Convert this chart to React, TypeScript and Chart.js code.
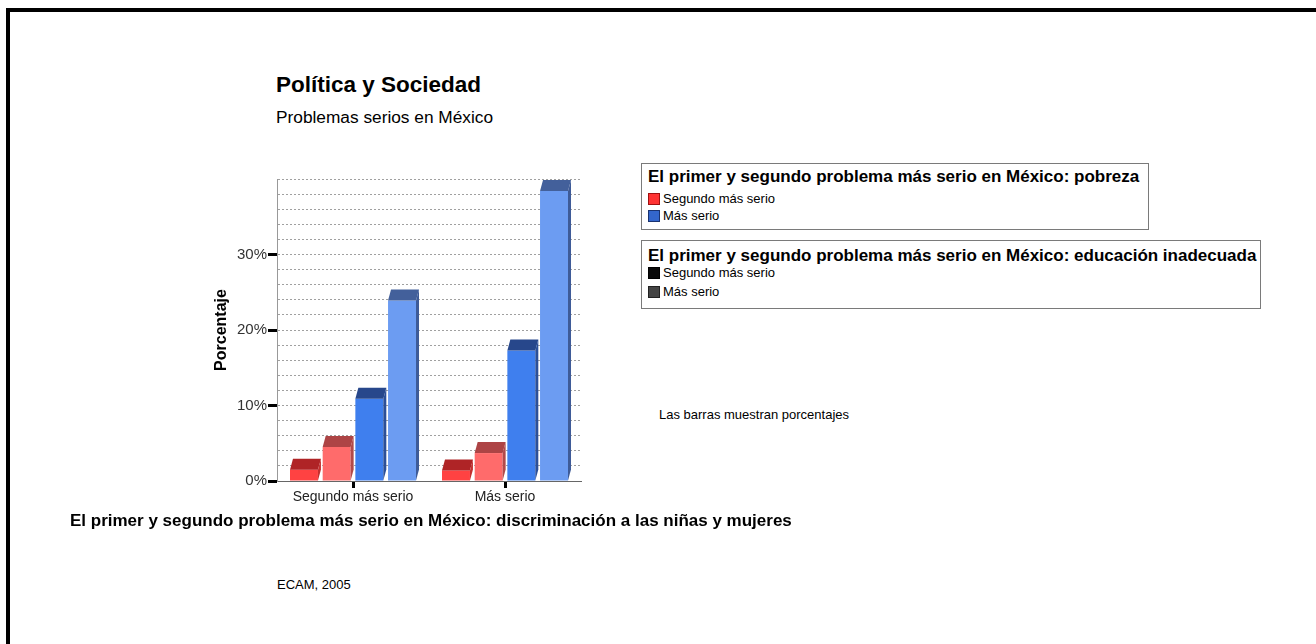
import React, { useEffect, useRef } from "react";
import { Chart, registerables } from "chart.js";

Chart.register(...registerables);

// ---- data ----
const categories = ["Segundo más serio", "Más serio"];
const seriesNames = ["Serie 1", "Serie 2", "Serie 3", "Serie 4"];
const seriesRed = [1.5, 1.4];
const seriesLightRed = [4.5, 3.7];
const seriesBlue = [10.9, 17.3];
const seriesLightBlue = [23.9, 38.4];
const labeledTicks = [0, 10, 20, 30];
const yMax = 40;
const yStep = 2;

const frontColors = ["#FF4242", "#FF6B6B", "#3F7FEE", "#6C9CF2"];
const topColors = ["#AF2426", "#AD4445", "#27478B", "#43609B"];
const sideColors = ["#C4302F", "#B24A4A", "#2B4F98", "#3E5B98"];

const FONT = '"Liberation Sans", Arial, Helvetica, sans-serif';
const DX = 3;
const DY = 11;

const bar3d = {
  id: "bar3d",
  afterDatasetsDraw(chart: any) {
    const ctx = chart.ctx;
    chart.data.datasets.forEach((_ds: any, i: number) => {
      const meta = chart.getDatasetMeta(i);
      meta.data.forEach((bar: any) => {
        const { x, y, base, width } = bar.getProps(["x", "y", "base", "width"], true);
        const l = x - width / 2;
        const r = x + width / 2;
        ctx.save();
        ctx.fillStyle = topColors[i];
        ctx.beginPath();
        ctx.moveTo(l, y);
        ctx.lineTo(l + DX, y - DY);
        ctx.lineTo(r + DX, y - DY);
        ctx.lineTo(r, y);
        ctx.closePath();
        ctx.fill();
        ctx.fillStyle = sideColors[i];
        ctx.beginPath();
        ctx.moveTo(r, y);
        ctx.lineTo(r + DX, y - DY);
        ctx.lineTo(r + DX, base - DY);
        ctx.lineTo(r, base);
        ctx.closePath();
        ctx.fill();
        ctx.restore();
      });
    });
  },
};

function Txt(props: { x: number; cy: number; size: number; bold?: boolean; children: React.ReactNode; color?: string }) {
  const lh = Math.round(props.size * 1.2);
  return (
    <div
      style={{
        position: "absolute",
        left: props.x,
        top: props.cy - lh / 2,
        fontSize: props.size,
        lineHeight: lh + "px",
        fontWeight: props.bold ? "bold" : "normal",
        fontFamily: FONT,
        whiteSpace: "nowrap",
        color: props.color || "#000",
      }}
    >
      {props.children}
    </div>
  );
}

function Swatch(props: { x: number; y: number; color: string; border: string }) {
  return (
    <div
      style={{
        position: "absolute",
        left: props.x,
        top: props.y,
        width: 12,
        height: 12,
        boxSizing: "border-box",
        background: props.color,
        border: "1px solid " + props.border,
      }}
    />
  );
}

export default function App() {
  const ref = useRef<HTMLCanvasElement | null>(null);

  useEffect(() => {
    if (!ref.current) return;
    const data = [seriesRed, seriesLightRed, seriesBlue, seriesLightBlue];
    const chart = new Chart(ref.current, {
      type: "bar",
      data: {
        labels: categories,
        datasets: data.map((d, i) => ({
          label: seriesNames[i],
          data: d,
          backgroundColor: frontColors[i],
          borderWidth: 0,
          categoryPercentage: 0.86,
          barPercentage: 0.856,
        })),
      },
      options: {
        responsive: false,
        animation: false,
        events: [],
        layout: { padding: { left: 212, right: 59, top: 29, bottom: 19 } },
        plugins: {
          legend: { display: false },
          title: { display: false },
          tooltip: { enabled: false },
        },
        scales: {
          x: {
            offset: true,
            grid: {
              offset: false,
              drawOnChartArea: false,
              drawTicks: true,
              tickLength: 7,
              tickColor: "#000",
              tickWidth: 3,
              lineWidth: 1,
              color: "transparent",
            },
            border: { display: true, color: "#666", width: 1 },
            ticks: {
              padding: 1,
              color: "#222",
              font: { family: FONT, size: 14 },
              autoSkip: false,
              maxRotation: 0,
            },
            afterFit: (scale: any) => {
              scale.height = 50;
            },
          },
          y: {
            min: 0,
            max: yMax,
            grid: {
              drawOnChartArea: true,
              drawTicks: true,
              tickLength: 9,
              color: "#a0a0a0",
              lineWidth: 1,
              tickColor: (c: any) =>
                c.tick && labeledTicks.includes(c.tick.value) ? "#000" : "transparent",
              tickWidth: 3,
            },
            border: { display: true, color: "#999", width: 1, dash: [2, 2] },
            ticks: {
              stepSize: yStep,
              maxTicksLimit: 30,
              autoSkip: false,
              padding: 1,
              color: "#333",
              font: { family: FONT, size: 15 },
              callback: (v: any) => (labeledTicks.includes(Number(v)) ? v + "%" : ""),
            },
            title: {
              display: true,
              text: "Porcentaje",
              color: "#000",
              font: { family: FONT, size: 16, weight: "bold", lineHeight: 1.2 },
              padding: 0,
            },
            afterFit: (scale: any) => {
              scale.width = 65;
            },
          },
        },
      },
      plugins: [bar3d],
    } as any);
    return () => chart.destroy();
  }, []);

  return (
    <div style={{ position: "absolute", left: 0, top: 0, width: 1316, height: 644, overflow: "hidden", background: "#fff" }}>
      <div
        style={{
          position: "absolute",
          left: 6,
          top: 8,
          width: 1310,
          height: 636,
          boxSizing: "border-box",
          borderTop: "4px solid #000",
          borderLeft: "4px solid #000",
        }}
      />
      <Txt x={276} cy={84} size={22.5} bold>
        Política y Sociedad
      </Txt>
      <Txt x={276} cy={117} size={17.3}>
        Problemas serios en México
      </Txt>

      <canvas
        ref={ref}
        width={640}
        height={400}
        style={{ position: "absolute", left: 0, top: 150, width: 640, height: 400 }}
      />

      {/* legend box 1 */}
      <div
        style={{
          position: "absolute",
          left: 641,
          top: 163,
          width: 508,
          height: 67,
          boxSizing: "border-box",
          border: "1px solid #7a7a7a",
        }}
      />
      <Txt x={648} cy={177} size={17} bold>
        El primer y segundo problema más serio en México: pobreza
      </Txt>
      <Swatch x={648} y={193} color="#FF3333" border="#A01010" />
      <Txt x={663} cy={199} size={13}>
        Segundo más serio
      </Txt>
      <Swatch x={648} y={210} color="#3366CC" border="#1A3370" />
      <Txt x={663} cy={216} size={13}>
        Más serio
      </Txt>

      {/* legend box 2 */}
      <div
        style={{
          position: "absolute",
          left: 641,
          top: 240,
          width: 620,
          height: 69,
          boxSizing: "border-box",
          border: "1px solid #7a7a7a",
        }}
      />
      <Txt x={648} cy={256} size={17} bold>
        El primer y segundo problema más serio en México: educación inadecuada
      </Txt>
      <Swatch x={648} y={267} color="#0A0A0A" border="#000" />
      <Txt x={663} cy={273} size={13}>
        Segundo más serio
      </Txt>
      <Swatch x={648} y={286} color="#444444" border="#222" />
      <Txt x={663} cy={292} size={13}>
        Más serio
      </Txt>

      <Txt x={659} cy={415} size={13}>
        Las barras muestran porcentajes
      </Txt>

      <Txt x={70} cy={521} size={17} bold>
        El primer y segundo problema más serio en México: discriminación a las niñas y mujeres
      </Txt>
      <Txt x={277} cy={585} size={13}>
        ECAM, 2005
      </Txt>
    </div>
  );
}
